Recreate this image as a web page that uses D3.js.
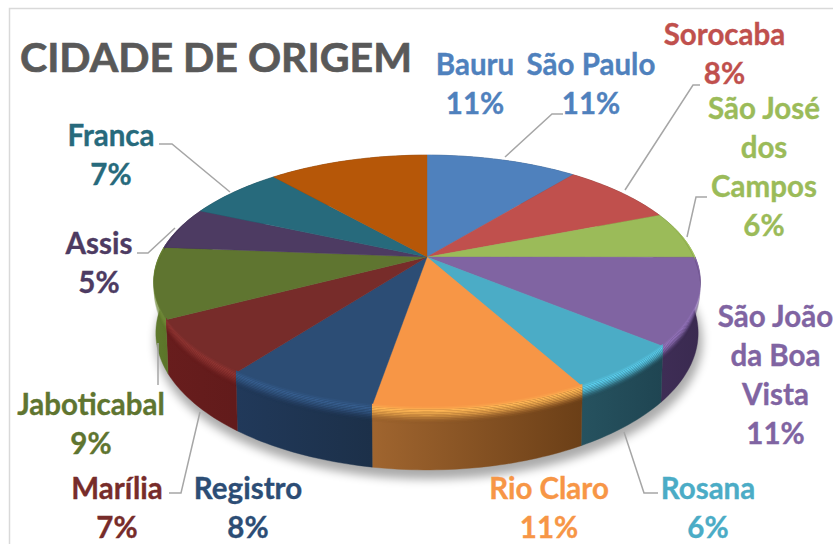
<!DOCTYPE html>
<html><head><meta charset="utf-8">
<script src="https://cdn.jsdelivr.net/npm/d3@7"></script>
<style>html,body{margin:0;padding:0;background:#fff;overflow:hidden}svg{display:block}
text{font-family:Lato,"Open Sans",sans-serif;font-weight:700}</style></head>
<body><svg id="c" width="833" height="544"></svg>
<script>
const cities = ["São Paulo","Sorocaba","São José dos Campos","São João da Boa Vista","Rosana","Rio Claro","Registro","Marília","Jaboticabal","Assis","Franca","Bauru"];
const values = [10.8,8.2,6,11,6,10.6,7.6,7,9,5.4,6.9,11.4];
const pctLabels = ["11%","8%","6%","11%","6%","11%","8%","7%","9%","5%","7%","11%"];
const colors = ["#4F81BD","#C0504D","#9BBB59","#8064A2","#4BACC6","#F79646","#2C4D75","#772C2A","#5F7530","#4D3B62","#276A7C","#B65708"];
const labelColors = ["#4F81BD","#C0504D","#9BBB59","#8064A2","#4BACC6","#F79646","#2C4D75","#772C2A","#5F7530","#4D3B62","#276A7C","#4F81BD"];
const sideLeft = ["#2f4d71","#73302e","#5d7035","#3e2d55","#26525f","#A0652F","#21395A","#681D1D","#5F7A2E","#2e2339","#173f4a","#6d3405"];
const sideRight = ["#2f4d71","#73302e","#5d7035","#3A2A50","#1F4552","#6B3F17","#1C3049","#621B1B","#5C7529","#2e2339","#173f4a","#6d3405"];
const labelLines = [["São Paulo"],["Sorocaba"],["São José","dos","Campos"],["São João","da Boa","Vista"],["Rosana"],["Rio Claro"],["Registro"],["Marília"],["Jaboticabal"],["Assis"],["Franca"],["Bauru"]];
const labelX = [591,724.5,764,775.5,708,549,248,117,91,99,111,475];
const labelY = [65,35,109,317,488.5,488.5,488.5,488.5,405,244,136,65];
const leaders = [
 [[505,157],[552,114],[563,114]],
 [[625,190],[693,85],[700,85]],
 [[687,237],[696,197],[707,197]],
 null,
 [[624,432],[644,493],[658,493]],
 null,
 null,
 [[200,412],[181,493],[169,493]],
 [[158,343],[158,385]],
 [[175,228],[148,253],[137,253]],
 [[230,192],[172,144],[159,144]],
 null
];

const W=833,H=544,cx=427,cy=257,A=268,B=122,persp=0.197,depth=49;
const svg=d3.select("#c");
const defs=svg.append("defs");
defs.append("filter").attr("id","soft").attr("x","-10%").attr("y","-20%").attr("width","120%").attr("height","140%")
  .append("feGaussianBlur").attr("stdDeviation",5);

svg.append("path").attr("d",`M9.5,544V8.5H833`).attr("fill","none").attr("stroke","#D9D9D9").attr("stroke-width",1.5);

const pie=d3.pie().sort(null).value(d=>d);
const arcs=pie(values);
const sc=v=>1/(1-persp*v);
const pt=(a,off=0,xs=1)=>{const u=Math.sin(a),v=-Math.cos(a),s=sc(v);return [cx+A*u*s*xs,cy+B*v*s+off*s];};
const samples=(a0,a1)=>{const n=Math.max(2,Math.ceil((a1-a0)/0.02));return d3.range(n+1).map(i=>a0+(a1-a0)*i/n);};
const line=d3.line();
const bev=(a,t)=>{const v=-Math.cos(a);return t*Math.max(0,Math.min(1,(v+0.3)/0.8));};

// soft shadow under the disc
svg.append("path")
  .attr("d",line(samples(0,2*Math.PI).map(a=>pt(a,depth+5,1.0)))+"Z")
  .attr("fill","#000").attr("opacity",.33).attr("filter","url(#soft)").attr("transform","translate(2,3)");

// side walls
arcs.forEach((d,i)=>{
  const as=samples(d.startAngle,d.endAngle);
  const top=as.map(a=>pt(a,0)),bot=as.map(a=>pt(a,depth,.992)).reverse();
  const xs=top.map(p=>p[0]);
  const gid="g"+i;
  const g=defs.append("linearGradient").attr("id",gid).attr("gradientUnits","userSpaceOnUse")
    .attr("x1",d3.min(xs)).attr("x2",d3.max(xs)).attr("y1",0).attr("y2",0);
  g.append("stop").attr("offset",0).attr("stop-color",sideLeft[i]);
  g.append("stop").attr("offset",1).attr("stop-color",sideRight[i]);
  svg.append("path").attr("d",line(top.concat(bot))+"Z").attr("fill",`url(#${gid})`).attr("stroke",`url(#${gid})`).attr("stroke-width",.4);
});

// top faces
arcs.forEach((d,i)=>{
  const pts=[[cx,cy]].concat(samples(d.startAngle,d.endAngle).map(a=>pt(a,0)));
  svg.append("path").attr("d",line(pts)+"Z").attr("fill",colors[i]).attr("stroke",colors[i]).attr("stroke-width",.4);
});

// rounded bevel along the front rim
const bevelSteps=d3.range(11);
arcs.forEach((d,i)=>{
  const as=samples(d.startAngle,d.endAngle);
  const hi=d3.color(colors[i]).brighter(.55).formatHex();
  const side=d3.interpolateRgb(sideLeft[i],sideRight[i])(.5);
  bevelSteps.forEach(k=>{
    const t0=k/11,t1=(k+1)/11,tm=(t0+t1)/2;
    const off0=-2+t0*14,off1=-2+t1*14;
    const f=tm<.25?d3.interpolateRgb(colors[i],hi)(tm/.25):d3.interpolateRgb(hi,side)((tm-.25)/.75);
    const a1=as.map(a=>pt(a,bev(a,off0)));
    const a2=as.map(a=>pt(a,bev(a,off1))).reverse();
    svg.append("path").attr("d",line(a1.concat(a2))+"Z").attr("fill",f)
      .attr("opacity",tm<.55?1:1-(tm-.55)/.45);
  });
});

// leader lines
leaders.forEach(l=>{ if(l) svg.append("path").attr("d",line(l)).attr("fill","none").attr("stroke","#A6A6A6").attr("stroke-width",1.5); });

// title
svg.append("text").attr("x",20).attr("y",72).attr("font-size",41).attr("fill","#595959").attr("stroke","#595959").attr("stroke-width",.7).attr("textLength",392).attr("lengthAdjust","spacingAndGlyphs").text("CIDADE DE ORIGEM");

// data labels
const lh=39;
cities.forEach((c,i)=>{
  const rows=labelLines[i].concat([pctLabels[i]]);
  rows.forEach((r,k)=>{
    svg.append("text").attr("x",labelX[i]).attr("y",labelY[i]+k*lh).attr("dy","0.35em")
      .attr("text-anchor","middle").attr("font-size",29.5).attr("fill",labelColors[i]).attr("stroke",labelColors[i]).attr("stroke-width",.35).text(r);
  });
});
</script></body></html>
